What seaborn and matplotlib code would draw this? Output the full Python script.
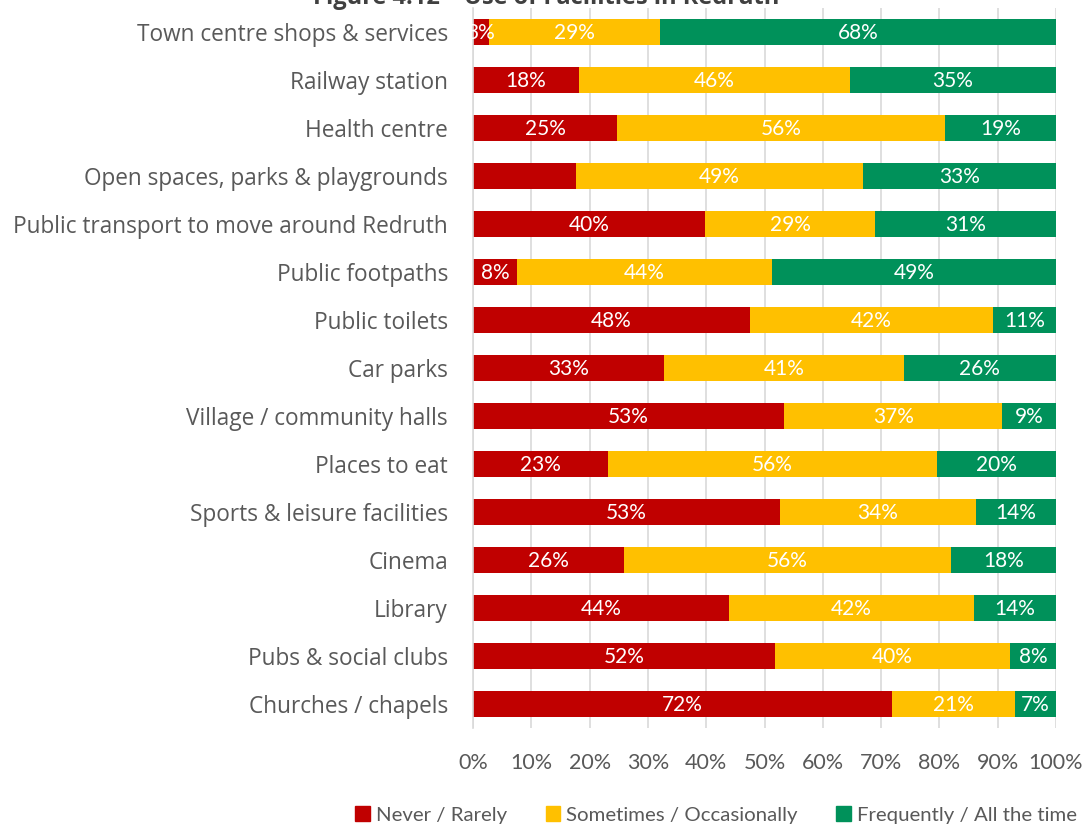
import matplotlib
matplotlib.use("Agg")
import matplotlib.pyplot as plt
import seaborn as sns
import pandas as pd
import numpy as np

facilities = [
    "Town centre shops & services",
    "Railway station",
    "Health centre",
    "Open spaces, parks & playgrounds",
    "Public transport to move around Redruth",
    "Public footpaths",
    "Public toilets",
    "Car parks",
    "Village / community halls",
    "Places to eat",
    "Sports & leisure facilities",
    "Cinema",
    "Library",
    "Pubs & social clubs",
    "Churches / chapels",
]
never = [2.7, 18.2, 24.7, 17.7, 39.8, 7.6, 47.5, 32.8, 53.4, 23.2, 52.6, 25.9, 43.9, 51.8, 71.9]
sometimes = [29.3, 46.4, 56.3, 49.2, 29.2, 43.7, 41.7, 41.1, 37.4, 56.4, 33.7, 56.1, 42.0, 40.3, 21.1]
frequently = [68.0, 35.4, 19.0, 33.1, 31.0, 48.7, 10.8, 26.1, 9.2, 20.4, 13.7, 18.0, 14.1, 7.9, 7.0]

series_names = ["Never / Rarely", "Sometimes / Occasionally", "Frequently / All the time"]
series_colors = ["#C00000", "#FFC000", "#00915A"]
unlabelled = {("Open spaces, parks & playgrounds", "Never / Rarely")}

narrow = ["Lato", "DejaVu Sans"]

sns.set_theme(style="white")
plt.rcParams["font.family"] = ["Open Sans", "DejaVu Sans"]

df = pd.DataFrame({"facility": facilities, "never": never,
                   "sometimes": sometimes, "frequently": frequently})
df["cum1"] = df["never"]
df["cum2"] = df["never"] + df["sometimes"]
df["cum3"] = df["cum2"] + df["frequently"]

fig = plt.figure(figsize=(10.86, 8.25), dpi=100)
ax = fig.add_axes([473 / 1086, 1 - 728 / 825, 583 / 1086, 720 / 825])

# stacked bars: draw cumulative totals from the back to the front
for col, color in zip(["cum3", "cum2", "cum1"], series_colors[::-1]):
    sns.barplot(data=df, x=col, y="facility", orient="h", color=color,
                width=0.53, saturation=1, edgecolor="none", ax=ax, zorder=2)

# segment labels
segments = [("never", series_names[0]), ("sometimes", series_names[1]), ("frequently", series_names[2])]
for i, row in df.iterrows():
    left = 0.0
    for col, name in segments:
        v = row[col]
        if (row["facility"], name) not in unlabelled:
            ax.text(left + v / 2, i + 0.02, f"{v:.0f}%", ha="center", va="center",
                    color="white", fontsize=15, family=narrow, zorder=5)
        left += v

ax.set_xlim(0, 100)
ax.set_ylim(len(facilities) - 0.5, -0.5)
ax.set_xticks(np.arange(0, 101, 10))
ax.set_xticklabels([f"{t}%" for t in range(0, 101, 10)], family=narrow,
                   fontsize=15.5, color="#595959")
ax.tick_params(axis="x", length=0, pad=18)
ax.tick_params(axis="y", length=0, pad=18, labelsize=16.3, labelcolor="#595959")
ax.set_xlabel("")
ax.set_ylabel("")
ax.grid(axis="x", color="#D9D9D9", linewidth=1.2, zorder=0)
ax.set_axisbelow(True)
for side in ["top", "right", "bottom"]:
    ax.spines[side].set_visible(False)
ax.spines["left"].set_color("#D9D9D9")
ax.spines["left"].set_linewidth(1.2)

handles = [plt.Rectangle((0, 0), 1, 1, color=c) for c in series_colors]
fig.legend(handles, series_names, loc="center", bbox_to_anchor=(716 / 1086, 1 - 815 / 825),
           ncol=3, frameon=False, handlelength=0.7, handleheight=0.7, handletextpad=0.3,
           columnspacing=1.9, prop={"family": narrow, "size": 14.7}, labelcolor="#595959")

fig.text(546 / 1086, 1 - 4 / 825, "Figure 4.12 \u2013 Use of Facilities in Redruth",
         ha="center", va="baseline", fontsize=17, fontweight="bold", color="#404040")

fig.savefig("out.png", dpi=100)
